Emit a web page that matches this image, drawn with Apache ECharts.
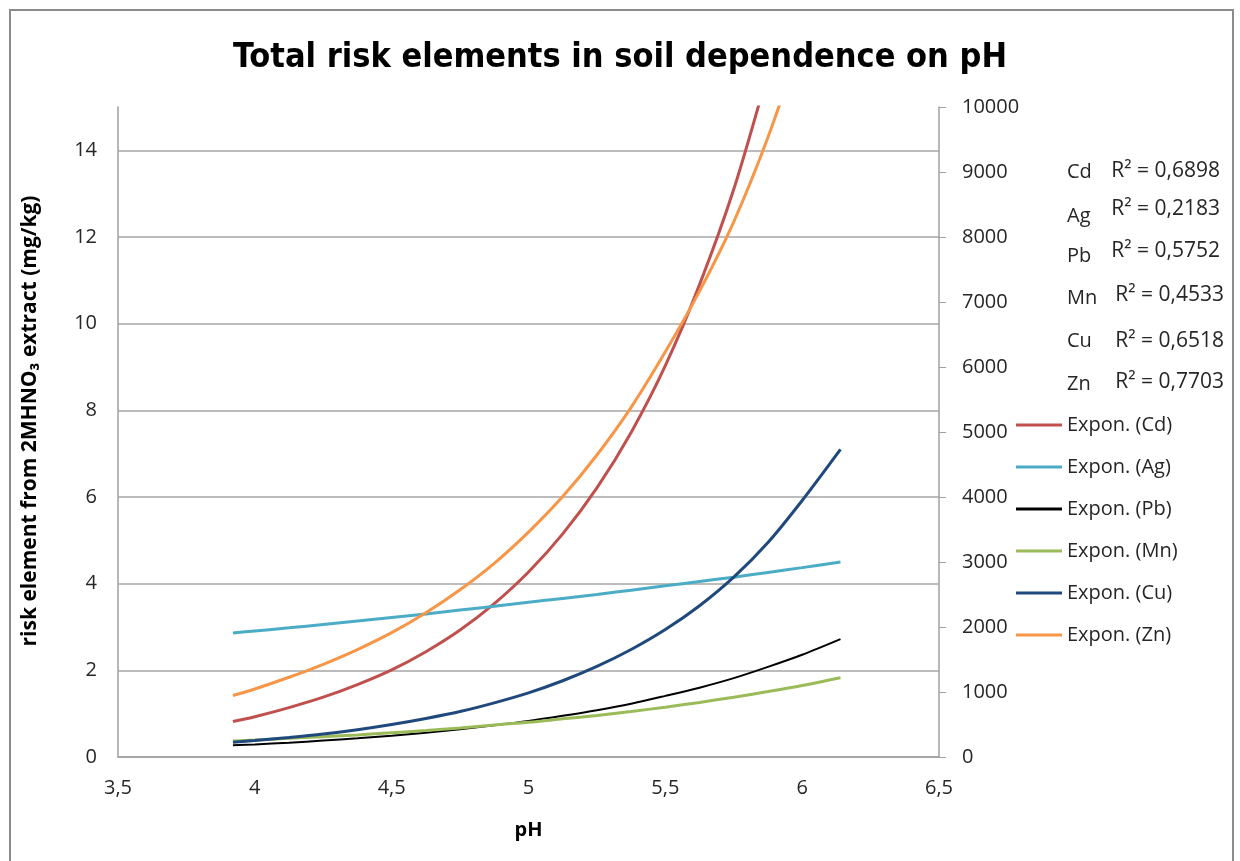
<!DOCTYPE html>
<html>
<head>
<meta charset="utf-8">
<title>Total risk elements in soil dependence on pH</title>
<script src="https://cdn.jsdelivr.net/npm/echarts@6/dist/echarts.min.js"></script>
<style>
  html, body { margin: 0; padding: 0; background: #ffffff; }
  #chart { width: 1240px; height: 861px; }
</style>
</head>
<body>
<div id="chart"></div>
<script>
// pH positions shared by the Ag, Pb, Mn and Cu curves
const phCommon = [3.92, 4.0, 4.125, 4.25, 4.375, 4.5, 4.625, 4.75, 4.875, 5.0,
                  5.125, 5.25, 5.375, 5.5, 5.625, 5.75, 5.875, 6.0, 6.14];
const agValues = [2.86, 2.91, 2.98, 3.06, 3.14, 3.22, 3.30, 3.39, 3.48, 3.57,
                  3.66, 3.75, 3.85, 3.95, 4.05, 4.15, 4.26, 4.37, 4.50];
const pbValues = [0.27, 0.29, 0.33, 0.38, 0.43, 0.49, 0.56, 0.64, 0.73, 0.83,
                  0.95, 1.08, 1.23, 1.41, 1.60, 1.82, 2.08, 2.36, 2.72];
const mnValues = [0.37, 0.39, 0.43, 0.47, 0.51, 0.56, 0.61, 0.67, 0.74, 0.80,
                  0.88, 0.96, 1.05, 1.15, 1.26, 1.38, 1.51, 1.65, 1.83];
const cuValues = [0.34, 0.38, 0.45, 0.53, 0.63, 0.75, 0.89, 1.05, 1.25, 1.48,
                  1.76, 2.09, 2.48, 2.94, 3.49, 4.15, 4.95, 5.92, 7.10];
// Cd and Zn leave the top of the plot before pH 6
const cdPh = [3.92, 4.0, 4.125, 4.25, 4.375, 4.5, 4.625, 4.75, 4.875, 5.0,
              5.125, 5.25, 5.375, 5.5, 5.625, 5.75, 5.875];
const cdValues = [0.82, 0.93, 1.14, 1.38, 1.67, 2.01, 2.43, 2.93, 3.54, 4.27,
                  5.15, 6.21, 7.49, 9.03, 10.9, 13.1, 15.8];
const znPh = [3.92, 4.0, 4.125, 4.25, 4.375, 4.5, 4.625, 4.75, 4.875, 5.0,
              5.125, 5.25, 5.375, 5.5, 5.625, 5.75, 5.875, 6.0];
const znValues = [1.42, 1.57, 1.84, 2.14, 2.48, 2.87, 3.33, 3.86, 4.47, 5.19,
                  6.01, 6.97, 8.07, 9.35, 10.75, 12.35, 14.3, 16.6];

// trendline labels
const elements = ['Cd', 'Ag', 'Pb', 'Mn', 'Cu', 'Zn'];
const rSquared = ['0,6898', '0,2183', '0,5752', '0,4533', '0,6518', '0,7703'];
const seriesNames = elements.map(e => 'Expon. (' + e + ')');

const colors = {
  Cd: '#C0504D', Ag: '#4BACC6', Pb: '#000000',
  Mn: '#9BBB59', Cu: '#1F497D', Zn: '#F79646'
};

const FONT = '"Open Sans", "Liberation Sans", sans-serif';
const TEXT = '#262626';

function pairs(xs, ys) { return xs.map((x, i) => [x, ys[i]]); }

const curves = {
  Cd: pairs(cdPh, cdValues),
  Ag: pairs(phCommon, agValues),
  Pb: pairs(phCommon, pbValues),
  Mn: pairs(phCommon, mnValues),
  Cu: pairs(phCommon, cuValues),
  Zn: pairs(znPh, znValues)
};

const fmtComma = v => String(v).replace('.', ',');

// per-row text positions for the R² block
const elemY = [172, 216, 256, 298, 341, 384];
const rY = [171, 209, 251, 295, 341, 382];
const rRight = [1220, 1220, 1220, 1224, 1224, 1224];

const graphics = [
  { type: 'rect', shape: { x: 10, y: 10, width: 1223, height: 900 },
    style: { fill: 'none', stroke: '#8C8C8C', lineWidth: 2 }, silent: true, z: 0 },
  { type: 'text', x: 30, y: 421, rotation: Math.PI / 2,
    style: { text: 'risk element from 2MHNO\u2083 extract (mg/kg)', font: 'bold 21px ' + FONT,
      fill: '#000', align: 'center', verticalAlign: 'middle' } }
];
elements.forEach((e, i) => {
  graphics.push({ type: 'text', x: 1067, y: elemY[i],
    style: { text: e, font: '20px ' + FONT, fill: TEXT, align: 'left', verticalAlign: 'middle' } });
  graphics.push({ type: 'text', x: rRight[i], y: rY[i],
    style: { text: 'R\u00B2 = ' + rSquared[i], font: '21px ' + FONT, fill: TEXT, align: 'right', verticalAlign: 'middle' } });
});

const chart = echarts.init(document.getElementById('chart'), null, { renderer: 'canvas' });

chart.setOption({
  backgroundColor: '#ffffff',
  animation: false,
  title: {
    text: 'Total risk elements in soil dependence on pH',
    left: 'center',
    top: 33,
    textStyle: { fontFamily: '"Liberation Sans Narrow", "DejaVu Sans Condensed", sans-serif',
      fontWeight: 'bold', fontSize: 34, lineHeight: 40, color: '#000' }
  },
  grid: { left: 118, right: 301, top: 107, bottom: 104, containLabel: false },
  legend: {
    orient: 'vertical',
    left: 1016,
    top: 414,
    padding: 0,
    icon: 'rect',
    itemWidth: 46,
    itemHeight: 3,
    itemGap: 20,
    data: seriesNames,
    textStyle: { fontFamily: FONT, fontSize: 20, color: TEXT, lineHeight: 22 }
  },
  xAxis: {
    type: 'value',
    min: 3.5, max: 6.5, interval: 0.5,
    name: 'pH',
    nameLocation: 'middle',
    nameGap: 63,
    nameTextStyle: { fontFamily: FONT, fontWeight: 'bold', fontSize: 20, color: '#000' },
    axisLine: { show: true, onZero: false, lineStyle: { color: '#A0A0A0', width: 1.5 } },
    axisTick: { show: false },
    splitLine: { show: false },
    axisLabel: { margin: 21, fontFamily: FONT, fontSize: 20, color: TEXT, formatter: fmtComma }
  },
  yAxis: [
    {
      type: 'value',
      min: 0, max: 15, interval: 2,
      position: 'left',
      axisLine: { show: true, lineStyle: { color: '#A0A0A0', width: 1.5 } },
      axisTick: { show: false },
      splitLine: { show: true, showMaxLine: false, lineStyle: { color: '#A6A6A6', width: 1.5 } },
      axisLabel: { margin: 21, fontFamily: FONT, fontSize: 20, color: TEXT, showMaxLabel: false,
        formatter: v => (v % 2 === 0 ? String(v) : '') }
    },
    {
      type: 'value',
      min: 0, max: 10000, interval: 1000,
      position: 'right',
      axisLine: { show: true, lineStyle: { color: '#A0A0A0', width: 1.5 } },
      axisTick: { show: true, inside: false, length: 7, lineStyle: { color: '#A0A0A0' } },
      splitLine: { show: false },
      axisLabel: { margin: 23, fontFamily: FONT, fontSize: 20, color: TEXT, formatter: v => String(v) }
    }
  ],
  graphic: graphics,
  series: elements.map((e, i) => ({
    name: seriesNames[i],
    type: 'line',
    yAxisIndex: 0,
    data: curves[e],
    smooth: 0.3,
    showSymbol: false,
    symbol: 'none',
    clip: true,
    color: colors[e],
    lineStyle: { color: colors[e], width: e === 'Pb' ? 2 : 3 },
    z: 3
  }))
});
</script>
</body>
</html>
